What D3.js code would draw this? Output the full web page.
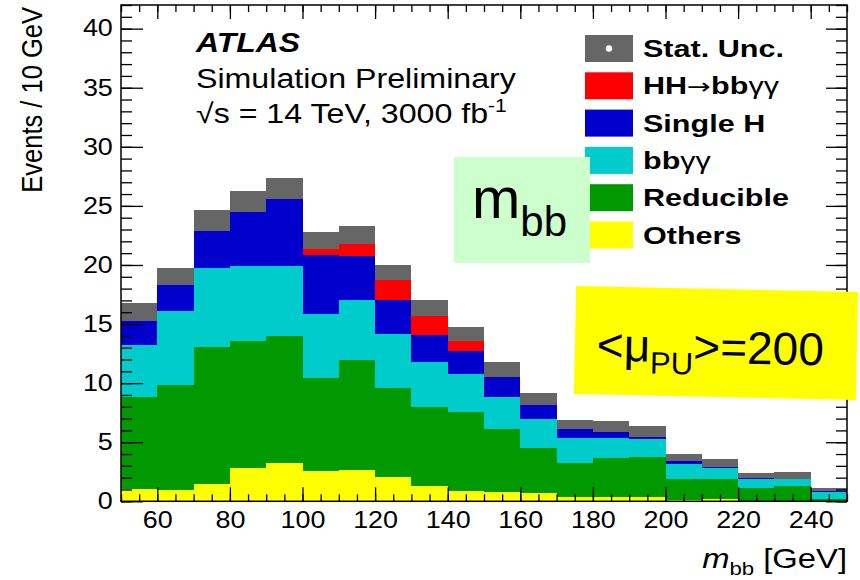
<!DOCTYPE html>
<html>
<head>
<meta charset="utf-8">
<script src="https://cdn.jsdelivr.net/npm/d3@7"></script>
<style>
  body { margin: 0; background: #fff; }
  svg { display: block; }
</style>
</head>
<body>
<script>
// lower edge of each 10 GeV bin
const binLow = [50, 60, 70, 80, 90, 100, 110, 120, 130, 140, 150, 160, 170, 180, 190, 200, 210, 220, 230, 240]

// expected events per bin, per process
const others    = [1.02, 0.96, 1.47, 2.80, 3.22, 2.55, 2.65, 2.09, 1.30, 0.90, 0.82, 0.68, 0.39, 0.34, 0.34, 0.11, 0.17, 0.05, 0.05, 0.03]
const reducible = [7.84, 8.84, 11.63, 10.73, 10.81, 7.87, 9.32, 7.54, 6.72, 6.67, 5.28, 3.86, 2.88, 3.30, 3.39, 1.78, 1.69, 1.10, 1.25, 0.16]
const bbyy      = [4.33, 6.27, 6.64, 6.41, 5.91, 5.43, 5.03, 4.52, 3.81, 3.19, 2.71, 2.41, 2.07, 1.75, 1.52, 1.27, 0.94, 0.71, 0.56, 0.62]
const singleH   = [2.76, 2.87, 3.91, 5.21, 6.24, 5.02, 3.73, 2.85, 2.26, 1.92, 1.69, 1.41, 1.06, 0.86, 0.63, 0.52, 0.44, 0.32, 0.32, 0.19]
const hh        = [0.05, 0.10, 0.15, 0.20, 0.30, 1.23, 1.84, 2.36, 2.26, 1.48, 0.65, 0.30, 0.10, 0.10, 0.05, 0.03, 0.02, 0.01, 0.01, 0.00]
const statUnc   = [0.78, 0.71, 0.89, 0.89, 0.89, 0.73, 0.76, 0.66, 0.65, 0.63, 0.60, 0.50, 0.40, 0.45, 0.45, 0.30, 0.32, 0.24, 0.30, 0.10]

const xTicks = [60, 80, 100, 120, 140, 160, 180, 200, 220, 240]
const yTicks = [0, 5, 10, 15, 20, 25, 30, 35, 40]

const width = 860
const height = 580
const font = '"Liberation Sans", Arial, Helvetica, sans-serif'
const stretch = 1.17   // the original picture is a bit wide

const colors = {
  others: '#ffff00',
  reducible: '#009900',
  bbyy: '#00cccc',
  singleH: '#0000cc',
  hh: '#ff0000',
  unc: '#666666'
}

const keys = ['others', 'reducible', 'bbyy', 'singleH', 'hh']
const rows = binLow.map((lo, i) => ({
  lo: lo,
  others: others[i],
  reducible: reducible[i],
  bbyy: bbyy[i],
  singleH: singleH[i],
  hh: hh[i],
  unc: statUnc[i]
}))

const x = d3.scaleLinear().domain([50, 250]).range([121, 847])
const y = d3.scaleLinear().domain([0, 42]).range([501.3, 5])

const svg = d3.select('body')
  .append('svg')
  .attr('width', width)
  .attr('height', height)

const stacked = d3.stack().keys(keys)(rows)

svg.append('g')
  .selectAll('g')
  .data(stacked)
  .enter()
  .append('g')
  .attr('fill', d => colors[d.key])
  .selectAll('rect')
  .data(d => d)
  .enter()
  .append('rect')
  .attr('x', d => x(d.data.lo))
  .attr('width', d => x(d.data.lo + 10) - x(d.data.lo))
  .attr('y', d => y(d[1]))
  .attr('height', d => y(d[0]) - y(d[1]))
  .attr('shape-rendering', 'crispEdges')

// statistical uncertainty band around the total
const total = d => keys.reduce((s, k) => s + d[k], 0)

svg.append('g')
  .selectAll('rect')
  .data(rows)
  .enter()
  .append('rect')
  .attr('x', d => x(d.lo))
  .attr('width', d => x(d.lo + 10) - x(d.lo))
  .attr('y', d => y(total(d) + d.unc))
  .attr('height', d => y(total(d) - d.unc) - y(total(d) + d.unc))
  .attr('fill', colors.unc)
  .attr('shape-rendering', 'crispEdges')

// axes, ticks pointing inwards like ROOT
const styleAxis = g => {
  g.select('.domain').remove()
  g.selectAll('line').attr('stroke', '#000').attr('stroke-width', 1.3)
}

const xMinor = d3.range(50, 251, 5)
const yMinor = d3.range(0, 43, 1)

svg.append('g')
  .attr('transform', `translate(0,${y(0)})`)
  .call(d3.axisBottom(x).tickValues(xMinor).tickSize(-7).tickFormat(''))
  .call(styleAxis)

svg.append('g')
  .attr('transform', `translate(0,${y(42)})`)
  .call(d3.axisTop(x).tickValues(xMinor).tickSize(-7).tickFormat(''))
  .call(styleAxis)

svg.append('g')
  .attr('transform', `translate(0,${y(42)})`)
  .call(d3.axisTop(x).tickValues(xTicks).tickSize(-14).tickFormat(''))
  .call(styleAxis)

const xAxis = svg.append('g')
  .attr('transform', `translate(0,${y(0)})`)
  .call(d3.axisBottom(x).tickValues(xTicks).tickSize(-14).tickPadding(10))
  .call(styleAxis)

svg.append('g')
  .attr('transform', `translate(${x(50)},0)`)
  .call(d3.axisLeft(y).tickValues(yMinor).tickSize(-11).tickFormat(''))
  .call(styleAxis)

svg.append('g')
  .attr('transform', `translate(${x(250)},0)`)
  .call(d3.axisRight(y).tickValues(yMinor).tickSize(-11).tickFormat(''))
  .call(styleAxis)

svg.append('g')
  .attr('transform', `translate(${x(250)},0)`)
  .call(d3.axisRight(y).tickValues(yTicks).tickSize(-21).tickFormat(''))
  .call(styleAxis)

const yAxis = svg.append('g')
  .attr('transform', `translate(${x(50)},0)`)
  .call(d3.axisLeft(y).tickValues(yTicks).tickSize(-22).tickPadding(7))
  .call(styleAxis)

;[xAxis, yAxis].forEach(g => {
  g.attr('font-family', font).attr('font-size', 23)
  g.selectAll('text')
    .attr('fill', '#000')
    .attr('transform', `scale(${stretch},1)`)
})

svg.append('rect')
  .attr('x', x(50))
  .attr('y', y(42))
  .attr('width', x(250) - x(50))
  .attr('height', y(0) - y(42))
  .attr('fill', 'none')
  .attr('stroke', '#000')
  .attr('stroke-width', 1.5)

// axis titles
svg.append('text')
  .attr('transform', `translate(42,7) scale(${stretch},1) rotate(-90)`)
  .attr('text-anchor', 'end')
  .attr('font-family', font)
  .attr('font-size', 25.5)
  .text('Events / 10 GeV')

const xTitle = svg.append('text')
  .attr('transform', `translate(847,568) scale(${stretch},1)`)
  .attr('text-anchor', 'end')
  .attr('font-family', font)
  .attr('font-size', 28)
xTitle.append('tspan').attr('font-style', 'italic').text('m')
xTitle.append('tspan').attr('font-size', 19).attr('dy', 7).text('bb')
xTitle.append('tspan').attr('dy', -7).text(' [GeV]')

// ATLAS label
svg.append('text')
  .attr('transform', `translate(196,51.5) scale(1.14,1)`)
  .attr('font-family', font)
  .attr('font-size', 28)
  .attr('font-weight', 'bold')
  .attr('font-style', 'italic')
  .text('ATLAS')

svg.append('text')
  .attr('transform', `translate(196,88) scale(${stretch},1)`)
  .attr('font-family', font)
  .attr('font-size', 27.5)
  .text('Simulation Preliminary')

const energy = svg.append('text')
  .attr('transform', `translate(196,123) scale(${stretch},1)`)
  .attr('font-family', font)
  .attr('font-size', 27.5)
energy.append('tspan').text('\u221As = 14 TeV, 3000 fb')
energy.append('tspan').attr('font-size', 18).attr('dy', -11).text('-1')

// legend
const legendItems = [
  { key: 'unc', parts: [['Stat. Unc.', 'bold']] },
  { key: 'hh', parts: [['HH', 'bold'], ['\u2192', 'arrow'], ['bb', 'bold'], ['\u03B3\u03B3', 'normal']] },
  { key: 'singleH', parts: [['Single H', 'bold']] },
  { key: 'bbyy', parts: [['bb', 'bold'], ['\u03B3\u03B3', 'normal']] },
  { key: 'reducible', parts: [['Reducible', 'bold']] },
  { key: 'others', parts: [['Others', 'bold']] }
]

const legend = svg.append('g')
  .selectAll('g')
  .data(legendItems)
  .enter()
  .append('g')
  .attr('transform', (d, i) => `translate(585,${35 + i * 37.3})`)

legend.append('rect')
  .attr('width', 48)
  .attr('height', 27)
  .attr('fill', d => colors[d.key])

legend.filter(d => d.key === 'unc')
  .append('circle')
  .attr('cx', 24)
  .attr('cy', 13.5)
  .attr('r', 3.2)
  .attr('fill', '#fff')

legend.append('text')
  .attr('transform', 'translate(58,22) scale(1.3,1)')
  .attr('font-family', font)
  .attr('font-size', 23.5)
  .selectAll('tspan')
  .data(d => d.parts)
  .enter()
  .append('tspan')
  .attr('font-weight', d => (d[1] === 'bold' ? 'bold' : 'normal'))
  .attr('font-family', d => (d[1] === 'arrow' ? '"DejaVu Sans", sans-serif' : null))
  .attr('font-size', d => (d[1] === 'arrow' ? 22 : null))
  .text(d => d[0])

// overlay boxes
svg.append('rect')
  .attr('x', 454)
  .attr('y', 157)
  .attr('width', 136)
  .attr('height', 106)
  .attr('fill', '#ccffcc')

const mbb = svg.append('text')
  .attr('x', 472)
  .attr('y', 218)
  .attr('font-family', font)
  .attr('font-size', 58)
mbb.append('tspan').text('m')
mbb.append('tspan').attr('font-size', 42).attr('dy', 18).text('bb')

const pu = svg.append('g')
  .attr('transform', 'translate(716,343) rotate(1.2)')

pu.append('rect')
  .attr('x', -141)
  .attr('y', -54)
  .attr('width', 282)
  .attr('height', 108)
  .attr('fill', '#ffff00')

const puText = pu.append('text')
  .attr('x', -119)
  .attr('y', 20)
  .attr('font-family', font)
  .attr('font-size', 46)
puText.append('tspan').text('<\u03BC')
puText.append('tspan').attr('font-size', 31).attr('dy', 12).text('PU')
puText.append('tspan').attr('dy', -12).text('>=200')
</script>
</body>
</html>
